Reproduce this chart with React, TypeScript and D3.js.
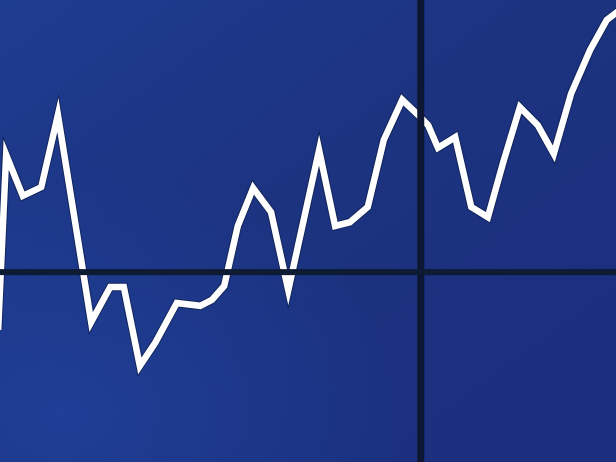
import React from "react";
import * as d3 from "d3";

const W = 616;
const H = 462;

// time position (0–100) and price level (0–100) of each vertex of the trace
const times = [
  -0.3, 1.0, 3.7, 6.7, 9.4, 14.8, 17.9, 20.1, 22.7, 25.2, 28.7, 32.5, 34.4, 36.4,
  38.6, 41.1, 44.0, 46.8, 51.8, 54.4, 56.8, 59.7, 62.3, 65.3, 67.9, 69.5, 71.1,
  73.9, 76.5, 79.2, 81.7, 84.4, 87.3, 89.9, 92.7, 95.8, 98.5, 100.6,
];
const prices = [
  28.6, 66.5, 57.6, 59.5, 75.1, 30.3, 37.9, 37.9, 20.8, 25.8, 34.4, 33.8, 35.1, 38.1,
  51.1, 59.3, 54.1, 37.2, 67.5, 51.1, 51.9, 55.2, 69.7, 78.4, 75.1, 72.9, 68.0,
  70.3, 55.2, 53.0, 64.9, 76.8, 72.9, 66.7, 79.7, 89.2, 95.7, 97.8,
];
// screen bezels (grid dividers)
const xDividers = [68.3];
const yDividers = [41.1];

export default function App() {
  const x = d3.scaleLinear().domain([0, 100]).range([0, W]);
  const y = d3.scaleLinear().domain([0, 100]).range([H, 0]);
  const data = times.map((t, i) => [t, prices[i]] as [number, number]);
  const line = d3
    .line<[number, number]>()
    .x((d) => x(d[0]))
    .y((d) => y(d[1]));
  const path = line(data) || "";

  return (
    <svg
      width={W}
      height={H}
      style={{ position: "absolute", left: 0, top: 0, display: "block" }}
    >
      <defs>
        <linearGradient id="bg" x1="0" y1="0" x2="1" y2="1">
          <stop offset="0%" stopColor="#1e3c90" />
          <stop offset="45%" stopColor="#1c3380" />
          <stop offset="100%" stopColor="#1a2f7e" />
        </linearGradient>
        <radialGradient id="glow" cx="0.1" cy="0.9" r="0.55">
          <stop offset="0%" stopColor="#2148a8" stopOpacity="0.55" />
          <stop offset="100%" stopColor="#2148a8" stopOpacity="0" />
        </radialGradient>
        <filter id="soft" x="-5%" y="-5%" width="110%" height="110%">
          <feGaussianBlur stdDeviation="0.5" />
        </filter>
      </defs>
      <rect x={0} y={0} width={W} height={H} fill="url(#bg)" />
      <rect x={0} y={0} width={W} height={H} fill="url(#glow)" />
      <path
        d={path}
        fill="none"
        stroke="#0e1a40"
        strokeWidth={8.5}
        strokeLinejoin="miter"
        strokeMiterlimit={20}
        opacity={0.6}
      />
      <path
        d={path}
        fill="none"
        stroke="#ffffff"
        strokeWidth={6.5}
        strokeLinejoin="miter"
        strokeMiterlimit={20}
        filter="url(#soft)"
      />
      {xDividers.map((v, i) => (
        <rect
          key={"vx" + i}
          x={x(v) - 3.5}
          y={0}
          width={7}
          height={H}
          fill="#0f1630"
          filter="url(#soft)"
        />
      ))}
      {yDividers.map((v, i) => (
        <rect
          key={"hy" + i}
          x={0}
          y={y(v) - 3}
          width={W}
          height={6}
          fill="#111a33"
          filter="url(#soft)"
        />
      ))}
    </svg>
  );
}
